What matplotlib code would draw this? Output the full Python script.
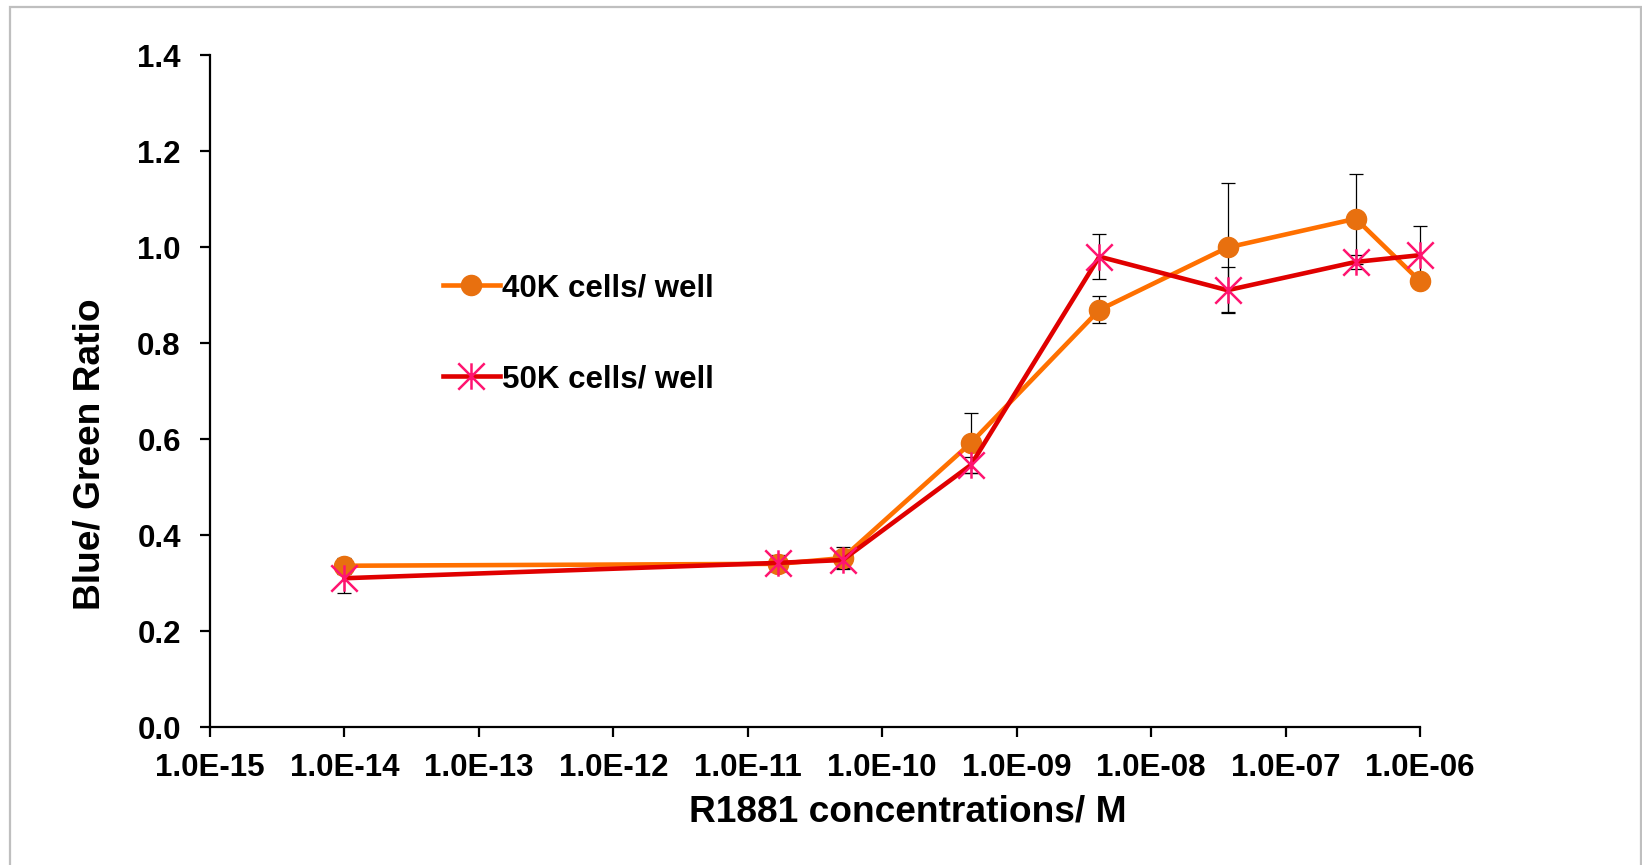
import numpy as np
import matplotlib
matplotlib.use("Agg")
import matplotlib.pyplot as plt
from matplotlib.path import Path
from matplotlib.patches import Rectangle

plt.rcParams['font.family'] = ['Liberation Sans', 'DejaVu Sans']
plt.rcParams['font.weight'] = 'bold'

# data
conc = [1e-14, 1.69e-11, 5.08e-11, 4.57e-10, 4.12e-9, 3.70e-8, 3.33e-7, 1e-6]
ratio_40k = [0.336, 0.340, 0.352, 0.592, 0.869, 0.999, 1.059, 0.929]
err_40k = [0.017, 0.018, 0.023, 0.063, 0.028, 0.135, 0.094, 0.010]
ratio_50k = [0.310, 0.342, 0.348, 0.546, 0.980, 0.910, 0.969, 0.983]
err_50k = [0.030, 0.010, 0.017, 0.017, 0.047, 0.048, 0.014, 0.061]

xticks = [1e-15, 1e-14, 1e-13, 1e-12, 1e-11, 1e-10, 1e-9, 1e-8, 1e-7, 1e-6]
xtick_labels = ['1.0E-15', '1.0E-14', '1.0E-13', '1.0E-12', '1.0E-11',
                '1.0E-10', '1.0E-09', '1.0E-08', '1.0E-07', '1.0E-06']
yticks = [0.0, 0.2, 0.4, 0.6, 0.8, 1.0, 1.2, 1.4]

# excel style star marker: X plus vertical bar
star = Path([(-1, -1), (1, 1), (-1, 1), (1, -1), (0, -1), (0, 1)],
            [Path.MOVETO, Path.LINETO, Path.MOVETO, Path.LINETO, Path.MOVETO, Path.LINETO])

fig = plt.figure(figsize=(16.42, 8.65), dpi=100)
ax = fig.add_axes([0.1279, 0.1595, 0.7369, 0.7769])

for y, e in [(ratio_40k, err_40k), (ratio_50k, err_50k)]:
    eb = ax.errorbar(conc, y, yerr=e, fmt='none', ecolor='black',
                     elinewidth=0.9, capsize=5, capthick=0.9, zorder=2)
    for a in list(eb[1]) + list(eb[2]):
        a.set_clip_on(False)

ax.plot(conc, ratio_40k, color='#FF7000', lw=3.3, marker='o', markersize=14.5,
        markerfacecolor='#E8700F', markeredgecolor='#E8700F',
        label='40K cells/ well', zorder=3, clip_on=False)
ax.plot(conc, ratio_50k, color='#E00000', lw=3.3, marker=star, markersize=19,
        markeredgewidth=1.8, markeredgecolor='#FF1470', markerfacecolor='none',
        label='50K cells/ well', zorder=4, clip_on=False)

ax.set_xscale('log')
ax.set_xlim(1e-15, 1e-6)
ax.set_ylim(0, 1.4)
ax.set_xticks(xticks)
ax.set_xticklabels(xtick_labels)
ax.minorticks_off()
ax.set_yticks(yticks)
ax.set_yticklabels(['%.1f' % v for v in yticks])

for s in ['top', 'right']:
    ax.spines[s].set_visible(False)
for s in ['left', 'bottom']:
    ax.spines[s].set_linewidth(1.6)
ax.tick_params(axis='both', direction='out', length=7, width=1.6,
               labelsize=22.5, pad=12)
ax.tick_params(axis='y', pad=14)

ax.set_xlabel('R1881 concentrations/ M', fontsize=26.7, fontweight='bold')
ax.set_ylabel('Blue/ Green Ratio', fontsize=26.7, fontweight='bold')
ax.xaxis.set_label_coords(0.577, -0.126)
ax.yaxis.set_label_coords(-0.0995, 0.406)
ax.xaxis.label.set_va('center')
ax.yaxis.label.set_va('center')

ax.legend(loc='upper left', bbox_to_anchor=(0.2695, 0.684), bbox_transform=fig.transFigure,
          frameon=False, fontsize=22.5, handlelength=1.85, handletextpad=0.04,
          labelspacing=1.95, borderpad=0, borderaxespad=0)

# chart area border
fig.patches.append(Rectangle((10 / 1642, -0.05), 1630.5 / 1642, 1.05 - 7 / 865,
                             transform=fig.transFigure, fill=False,
                             edgecolor='#BFBFBF', lw=1.6))

fig.savefig('out.png', dpi=100)
